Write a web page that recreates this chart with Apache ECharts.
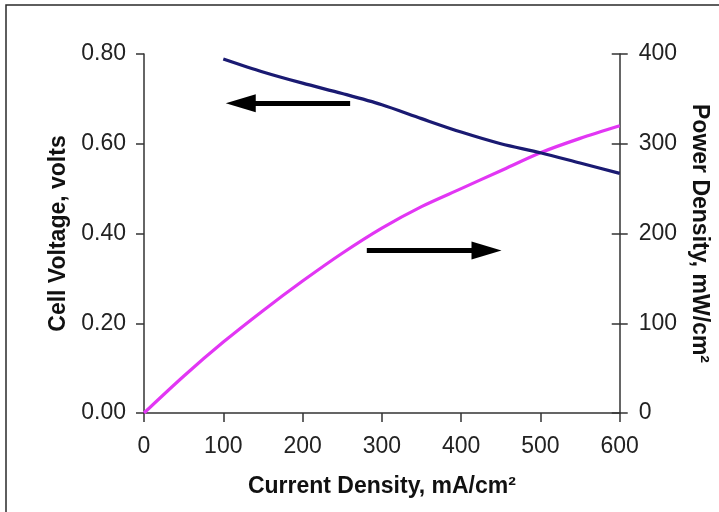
<!DOCTYPE html>
<html>
<head>
<meta charset="utf-8">
<script src="https://cdn.jsdelivr.net/npm/echarts@6/dist/echarts.min.js"></script>
<style>
  html, body { margin: 0; padding: 0; background: #ffffff; }
  #chart { width: 719px; height: 512px; }
</style>
</head>
<body>
<div id="chart"></div>
<script>
// Fuel cell polarization and power density curves
const currentV = [100, 150, 200, 250, 300, 350, 400, 450, 500, 550, 600];
const voltage = [0.789, 0.760, 0.735, 0.712, 0.687, 0.656, 0.626, 0.600, 0.580, 0.557, 0.534];
const currentP = [0, 50, 100, 150, 200, 250, 300, 350, 400, 450, 500, 550, 600];
const power = [0, 41, 79, 114, 147, 178, 206, 230, 250, 270, 290, 306, 320];

// Pointer arrows: [tail x, head x, level] in data units of each axis
const voltageArrow = [260, 122, 0.690];
const powerArrow = [281, 432, 181];

const FONT = 'Liberation Sans, Arial, sans-serif';
const INK = '#222222';
const AXIS = '#333333';

const chart = echarts.init(document.getElementById('chart'), null, { renderer: 'canvas' });

function arrowLine(a) {
  return {
    silent: true,
    symbol: ['none', 'triangle'],
    symbolSize: [18, 30],
    label: { show: false },
    lineStyle: { color: '#000000', width: 5, type: 'solid' },
    data: [[{ coord: [a[0], a[2]] }, { coord: [a[1], a[2]] }]]
  };
}

chart.setOption({
  animation: false,
  backgroundColor: '#ffffff',
  grid: { left: 144, right: 99, top: 54, bottom: 99 },
  graphic: [{
    type: 'rect',
    shape: { x: 6, y: 5, width: 800, height: 600 },
    style: { fill: 'none', stroke: '#2a2a2a', lineWidth: 1.5 },
    z: 100
  }],
  xAxis: {
    type: 'value',
    min: 0, max: 600, interval: 100,
    name: 'Current Density, mA/cm²',
    nameLocation: 'middle',
    nameGap: 62,
    nameTextStyle: { fontFamily: FONT, fontSize: 23, fontWeight: 'bold', color: '#111' },
    axisLine: { show: true, onZero: false, lineStyle: { color: AXIS, width: 1.5 } },
    axisTick: { show: true, inside: false, length: 9, lineStyle: { color: AXIS, width: 1.5 } },
    axisLabel: { fontFamily: FONT, fontSize: 23, color: INK, margin: 22 },
    splitLine: { show: false }
  },
  yAxis: [{
    type: 'value',
    position: 'left',
    min: 0, max: 0.8, interval: 0.2,
    name: 'Cell Voltage, volts',
    nameLocation: 'middle',
    nameGap: 71,
    nameRotate: 90,
    nameTextStyle: { fontFamily: FONT, fontSize: 23, fontWeight: 'bold', color: '#111' },
    axisLine: { show: true, lineStyle: { color: AXIS, width: 1.5 } },
    axisTick: { show: true, inside: false, length: 8, lineStyle: { color: AXIS, width: 1.5 } },
    axisLabel: { fontFamily: FONT, fontSize: 23, color: INK, margin: 18, formatter: v => v.toFixed(2) },
    splitLine: { show: false }
  }, {
    type: 'value',
    position: 'right',
    min: 0, max: 400, interval: 100,
    name: 'Power Density, mW/cm²',
    nameLocation: 'middle',
    nameGap: 66,
    nameRotate: -90,
    nameTextStyle: { fontFamily: FONT, fontSize: 23, fontWeight: 'bold', color: '#111' },
    axisLine: { show: true, lineStyle: { color: AXIS, width: 1.5 } },
    axisTick: { show: true, inside: false, length: 8, lineStyle: { color: AXIS, width: 1.5 } },
    axisLabel: { fontFamily: FONT, fontSize: 23, color: INK, margin: 19 },
    splitLine: { show: false }
  }, {
    // inner half of the crossing ticks on the right axis
    type: 'value',
    position: 'right',
    min: 0, max: 400, interval: 100,
    axisLine: { show: false },
    axisTick: { show: true, inside: true, length: 8, lineStyle: { color: AXIS, width: 1.5 } },
    axisLabel: { show: false },
    splitLine: { show: false }
  }],
  series: [{
    name: 'Cell Voltage',
    type: 'line',
    yAxisIndex: 0,
    data: currentV.map((x, i) => [x, voltage[i]]),
    smooth: 0.3,
    showSymbol: false,
    lineStyle: { color: '#1a1a72', width: 3.2 },
    markLine: arrowLine(voltageArrow),
    z: 3
  }, {
    name: 'Power Density',
    type: 'line',
    yAxisIndex: 1,
    data: currentP.map((x, i) => [x, power[i]]),
    smooth: 0.3,
    showSymbol: false,
    lineStyle: { color: '#e236f4', width: 3.2 },
    markLine: arrowLine(powerArrow),
    z: 2
  }]
});
</script>
</body>
</html>
